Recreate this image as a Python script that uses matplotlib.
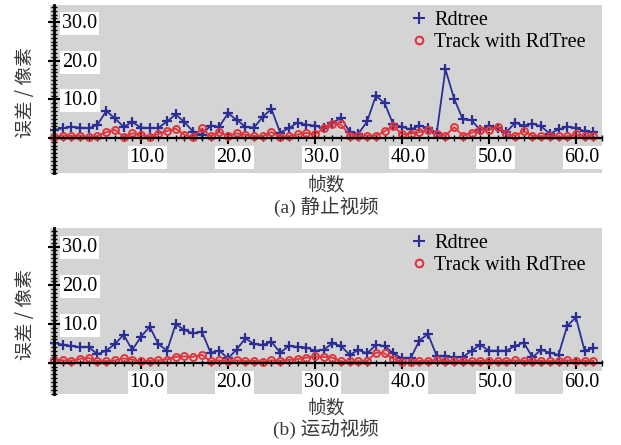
import matplotlib
matplotlib.use("Agg")
import matplotlib.pyplot as plt
from matplotlib.lines import Line2D
from matplotlib.ticker import MultipleLocator

# ---------------- data ----------------
frames = list(range(63))

static_rdtree = [2.1, 2.5, 2.9, 2.7, 2.5, 3.4, 7.0, 5.1, 2.9, 4.1,
                 2.7, 2.6, 2.6, 4.3, 6.1, 4.1, 1.6, 0.8, 3.2, 2.9,
                 6.4, 4.7, 2.9, 2.7, 5.5, 7.5, 1.4, 2.5, 4.0, 3.4,
                 3.2, 2.5, 3.9, 5.2, 1.5, 1.1, 4.3, 10.9, 9.1, 3.5,
                 2.9, 2.2, 3.2, 2.6, 1.3, 17.8, 10.2, 4.8, 4.6, 2.0,
                 3.0, 2.6, 1.5, 3.9, 3.2, 3.7, 3.0, 1.1, 2.2, 2.9,
                 2.6, 1.7, 1.5]
static_track = [0.3, 0.6, 0.5, 0.6, 0.3, 0.5, 1.5, 2.1, 0.3, 1.2,
                0.8, 0.3, 1.0, 1.8, 2.4, 0.8, 0.2, 2.5, 0.5, 1.5,
                0.5, 1.2, 0.8, 0.5, 0.5, 1.5, 0.3, 0.5, 0.9, 1.3,
                0.9, 2.5, 3.7, 3.5, 0.6, 0.4, 0.6, 0.6, 1.7, 3.2,
                0.9, 1.1, 1.5, 2.0, 0.9, 0.6, 2.8, 0.6, 1.3, 2.0,
                2.0, 2.9, 0.9, 0.6, 1.7, 0.6, 0.4, 0.6, 0.4, 0.4,
                0.9, 0.4, 0.6]

motion_rdtree = [5.2, 4.6, 4.3, 4.0, 4.0, 2.2, 3.1, 4.8, 7.2, 3.3,
                 6.7, 9.3, 4.8, 3.1, 10.0, 8.4, 7.6, 8.0, 2.6, 3.1,
                 1.1, 3.4, 6.3, 4.8, 4.6, 5.4, 2.6, 4.3, 4.1, 3.9,
                 3.1, 3.3, 5.0, 4.3, 2.0, 3.3, 2.4, 4.6, 4.3, 2.4,
                 1.1, 1.1, 5.7, 7.4, 1.7, 1.6, 1.4, 1.4, 3.1, 4.6,
                 3.1, 3.1, 3.1, 4.3, 5.2, 1.4, 3.3, 2.6, 2.0, 9.5,
                 11.7, 3.1, 3.7]
motion_track = [0.8, 0.6, 0.5, 1.0, 1.2, 0.4, 0.4, 0.6, 1.1, 0.8,
                0.3, 0.5, 0.6, 0.8, 1.5, 1.6, 1.5, 2.0, 0.4, 0.6,
                0.3, 0.6, 0.4, 0.5, 0.2, 0.6, 0.5, 0.7, 0.9, 1.3,
                1.6, 1.5, 1.3, 0.3, 0.3, 0.3, 0.4, 2.6, 2.4, 1.0,
                0.1, 0.1, 0.4, 0.5, 0.6, 0.4, 0.3, 0.5, 0.4, 0.5,
                0.5, 0.4, 0.5, 0.6, 0.5, 0.4, 0.5, 0.4, 0.5, 0.6,
                0.5, 0.5, 0.5]

series_names = ["Rdtree", "Track with RdTree"]
x_ticks = [10, 20, 30, 40, 50, 60]
x_tick_labels = ["10.0", "20.0", "30.0", "40.0", "50.0", "60.0"]
y_ticks = [10, 20, 30]
y_tick_labels = ["10.0", "20.0", "30.0"]
x_label = "帧数"
y_label = "误差 / 像素"
captions = ["(a) 静止视频", "(b) 运动视频"]

# ---------------- style ----------------
BLUE = "#2b2f95"
RED = "#e0343c"
BG = "#d4d4d4"
SERIF = ["Liberation Serif", "Noto Sans CJK SC"]
CJK = ["Noto Sans CJK SC", "DejaVu Sans"]

W, H = 621, 445
fig = plt.figure(figsize=(W / 100, H / 100), dpi=100)

panels = [
    dict(rect=[50 / W, 1 - 173 / H, 552 / W, 168 / H], ylim=(-9.1, 34.5),
         rd=static_rdtree, tr=static_track, cap=captions[0],
         ylab_y=93, xlab_y=185, cap_y=207),
    dict(rect=[50 / W, 1 - 394 / H, 552 / W, 166 / H], ylim=(-8.1, 34.8),
         rd=motion_rdtree, tr=motion_track, cap=captions[1],
         ylab_y=315, xlab_y=408, cap_y=429),
]

for p in panels:
    ax = fig.add_axes(p["rect"])
    ax.set_facecolor(BG)
    ax.set_xlim(-0.46, 63.0)
    ax.set_ylim(*p["ylim"])
    for s in ("top", "right"):
        ax.spines[s].set_visible(False)
    ax.spines["left"].set_position(("data", 0))
    ax.spines["bottom"].set_position(("data", 0))
    ax.spines["left"].set_linewidth(2.0)
    ax.spines["bottom"].set_linewidth(1.6)
    ax.xaxis.set_major_locator(MultipleLocator(10))
    ax.xaxis.set_minor_locator(MultipleLocator(1))
    ax.yaxis.set_major_locator(MultipleLocator(10))
    ax.yaxis.set_minor_locator(MultipleLocator(1))
    ax.tick_params(which="major", direction="inout", length=9, width=1.5,
                   labelbottom=False, labelleft=False)
    ax.tick_params(which="minor", direction="inout", length=5, width=1.0)

    ax.plot(frames, p["rd"], color=BLUE, lw=1.3, marker="+", ms=7.5, mew=1.6,
            zorder=2)
    ax.plot(frames, p["tr"], color=RED, lw=1.3, marker="o", ms=5,
            mfc="none", mew=1.4, zorder=2.1)

    for v, lab in zip(y_ticks, y_tick_labels):
        ax.annotate(lab, xy=(0, v), xycoords="data", xytext=(6, -1),
                    textcoords="offset points", ha="left", va="center",
                    fontsize=14.5, family=SERIF,
                    bbox=dict(boxstyle="square,pad=0.1", fc="white", ec="none"))
    for v, lab in zip(x_ticks, x_tick_labels):
        ax.annotate(lab, xy=(v, 0), xycoords="data", xytext=(4.5, -14),
                    textcoords="offset points", ha="center", va="center",
                    fontsize=14.5, family=SERIF,
                    bbox=dict(boxstyle="square,pad=0.1", fc="white", ec="none"))

    handles = [
        Line2D([], [], ls="none", color=BLUE, marker="+", ms=8, mew=1.5),
        Line2D([], [], ls="none", color=RED, marker="o", ms=5.5, mfc="none",
               mew=1.5),
    ]
    ax.legend(handles, series_names, loc="upper left",
              bbox_to_anchor=((408 - 50) / 552, 0.985), frameon=False,
              prop=dict(family=SERIF, size=14.5), handlelength=0.8,
              handletextpad=0.35, labelspacing=0.15, borderaxespad=0,
              borderpad=0.15)

    fig.text(25 / W, 1 - p["ylab_y"] / H, y_label, rotation=90, ha="center",
             va="center", fontsize=13.5, family=CJK, color="#3a3a3a")
    fig.text(326 / W, 1 - p["xlab_y"] / H, x_label, ha="center", va="center",
             fontsize=13.5, family=CJK, color="#3a3a3a")
    fig.text(326 / W, 1 - p["cap_y"] / H, p["cap"], ha="center", va="center",
             fontsize=14, family=SERIF, color="#3a3a3a")

fig.savefig("out.png", dpi=100)
